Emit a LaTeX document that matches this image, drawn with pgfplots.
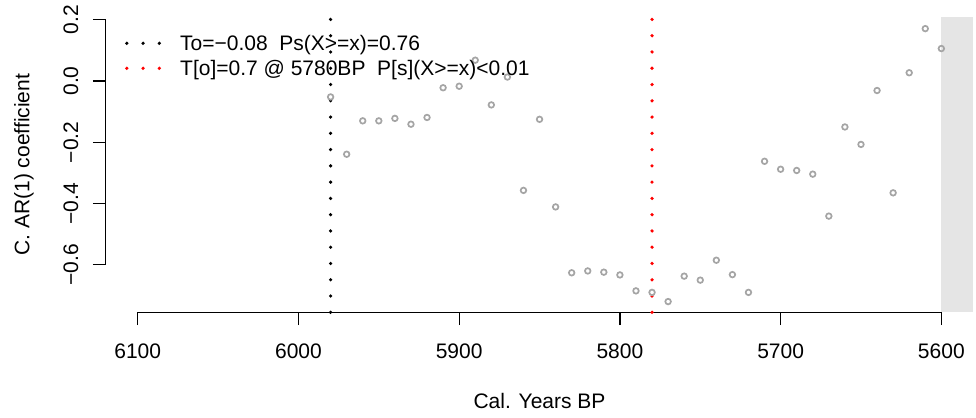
\documentclass[border=0pt]{standalone}
\usepackage{pgfplots}
\pgfplotsset{compat=1.18}
\usepackage{fontspec}
\setmainfont{Liberation Sans}
\definecolor{ptgray}{RGB}{165,165,165}
\definecolor{rectgray}{RGB}{229,229,229}
\begin{document}
\begin{tikzpicture}
\useasboundingbox (-105.6bp,-105.7bp) rectangle (870.4bp,312.3bp);
\begin{axis}[
  at={(0,0)}, anchor=south west,
  scale only axis, width=867.9bp, height=295bp,
  x dir=reverse, xmin=5580, xmax=6120, ymin=-0.755, ymax=0.208,
  axis x line*=bottom, axis y line*=left,
  axis line style={draw=none},
  clip=false,
  tick align=outside, major tick length=12.7bp,
  tick style={black, line width=1.3bp},
  xtick={5600,5700,5800,5900,6000,6100},
  xticklabels={5600,5700,5800,5900,6000,6100},
  ytick={-0.6,-0.4,-0.2,0,0.2},
  yticklabels={−0.6,−0.4,−0.2,0.0,0.2},
  font=\fontsize{21bp}{25bp}\selectfont,
  xticklabel style={anchor=center},
  yticklabel style={rotate=90, anchor=center},
  xticklabel shift=26bp,
  yticklabel shift=21.9bp,
  xlabel={Cal. Years BP}, ylabel={C. AR(1) coefficient},
  xlabel style={at={(axis description cs:0.5,-0.3017)}, anchor=center},
  ylabel style={at={(axis description cs:-0.094,0.5)}, anchor=center},
  legend cell align=left,
  legend style={at={(axis description cs:0.02235,0.9458)}, anchor=north west,
    draw=none, fill=none, inner sep=0pt, outer sep=0pt, row sep=0pt, column sep=0pt,
    nodes={inner sep=0pt, text height=17.5bp, text depth=7.5bp}},
  legend image code/.code={\draw[#1] (0bp,2.5bp) -- (32.6bp,2.5bp); \path[draw=none] (0bp,2.5bp) -- (53.4bp,2.5bp);},
]
\addplot[draw=none, fill=rectgray, forget plot] coordinates {(5600,-0.755) (5600,0.208) (5580,0.208) (5580,-0.755)} -- cycle;
\addplot[black, line width=1.3bp, forget plot] coordinates {(6100,-0.755) (5600,-0.755)};
\addplot[black, line width=1.3bp, forget plot] coordinates {(6120,-0.6) (6120,0.2)};
\addplot[only marks, mark=o, mark size=2.8bp, ptgray, mark options={line width=1.7bp}, forget plot] table {
x y
5980 -0.052
5970 -0.239
5960 -0.130
5950 -0.130
5940 -0.122
5930 -0.141
5920 -0.119
5910 -0.022
5900 -0.017
5890 0.068
5880 -0.078
5870 0.013
5860 -0.357
5850 -0.125
5840 -0.411
5830 -0.626
5820 -0.620
5810 -0.624
5800 -0.633
5790 -0.685
5780 -0.690
5770 -0.720
5760 -0.637
5750 -0.650
5740 -0.585
5730 -0.632
5720 -0.690
5710 -0.262
5700 -0.288
5690 -0.292
5680 -0.304
5670 -0.441
5660 -0.150
5650 -0.207
5640 -0.031
5630 -0.365
5620 0.027
5610 0.171
5600 0.106
};
\addplot[black, line width=3.6bp, line cap=round, dash pattern=on 0bp off 16.27bp] coordinates {(5980,-0.755) (5980,0.208)};
\addlegendentry{To=−0.08\ \ Ps(X>=x)=0.76}
\addplot[red, line width=3.6bp, line cap=round, dash pattern=on 0bp off 16.27bp] coordinates {(5780,-0.755) (5780,0.208)};
\addlegendentry{T[o]=0.7 @ 5780BP\ \ P[s](X>=x)<0.01}
\end{axis}
\end{tikzpicture}
\end{document}
